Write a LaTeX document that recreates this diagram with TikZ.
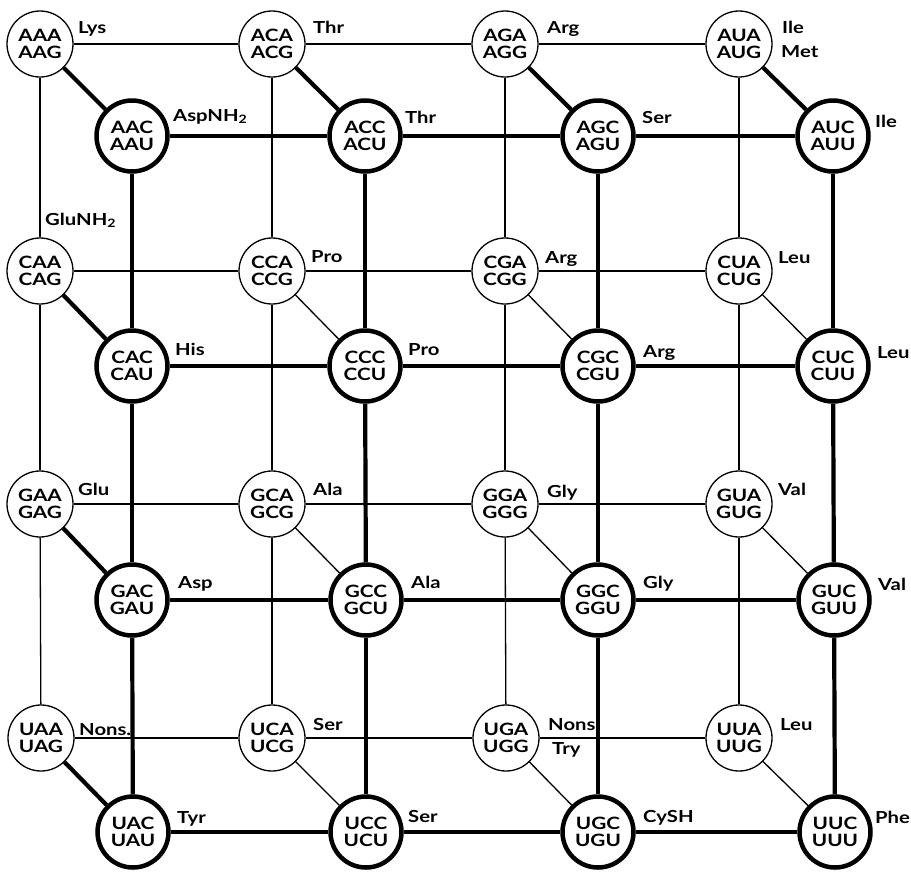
\documentclass[tikz,border=0pt]{standalone}
\usepackage{fontspec}
\setmainfont{Lato}[FakeStretch=1.22]
\begin{document}
\begin{tikzpicture}[x=1pt,y=-1pt,
  thinnode/.style={circle,draw,line width=1.3pt,minimum size=66pt,inner sep=0pt,fill=white,align=center,font=\fontsize{17}{17.5}\selectfont\bfseries},
  thicknode/.style={thinnode,line width=4.5pt,minimum size=71pt},
  thinline/.style={line width=1.3pt},
  thickline/.style={line width=4.2pt},
  lab/.style={anchor=base west,inner sep=0pt,font=\fontsize{16.6}{18}\selectfont\bfseries}]
\path[use as bounding box] (0,0) rectangle (911,871);
% thin nodes
\node[thinnode] (AAA) at (40,44) {AAA\\AAG};
\node[thinnode] (ACA) at (272,44) {ACA\\ACG};
\node[thinnode] (AGA) at (505,44) {AGA\\AGG};
\node[thinnode] (AUA) at (739,44) {AUA\\AUG};
\node[thinnode] (CAA) at (40,271) {CAA\\CAG};
\node[thinnode] (CCA) at (272,271) {CCA\\CCG};
\node[thinnode] (CGA) at (505,271) {CGA\\CGG};
\node[thinnode] (CUA) at (739,271) {CUA\\CUG};
\node[thinnode] (GAA) at (40,504) {GAA\\GAG};
\node[thinnode] (GCA) at (272,504) {GCA\\GCG};
\node[thinnode] (GGA) at (505,504) {GGA\\GGG};
\node[thinnode] (GUA) at (739,504) {GUA\\GUG};
\node[thinnode] (UAA) at (41,738) {UAA\\UAG};
\node[thinnode] (UCA) at (272,738) {UCA\\UCG};
\node[thinnode] (UGA) at (506,738) {UGA\\UGG};
\node[thinnode] (UUA) at (739,738) {UUA\\UUG};
% thick nodes
\node[thicknode] (AAC) at (132,136) {AAC\\AAU};
\node[thicknode] (ACC) at (365,136) {ACC\\ACU};
\node[thicknode] (AGC) at (598,136) {AGC\\AGU};
\node[thicknode] (AUC) at (833,136) {AUC\\AUU};
\node[thicknode] (CAC) at (132,366) {CAC\\CAU};
\node[thicknode] (CCC) at (365,366) {CCC\\CCU};
\node[thicknode] (CGC) at (598,366) {CGC\\CGU};
\node[thicknode] (CUC) at (833,366) {CUC\\CUU};
\node[thicknode] (GAC) at (132,600) {GAC\\GAU};
\node[thicknode] (GCC) at (366,600) {GCC\\GCU};
\node[thicknode] (GGC) at (598,600) {GGC\\GGU};
\node[thicknode] (GUC) at (834,600) {GUC\\GUU};
\node[thicknode] (UAC) at (133,832) {UAC\\UAU};
\node[thicknode] (UCC) at (366,832) {UCC\\UCU};
\node[thicknode] (UGC) at (598,832) {UGC\\UGU};
\node[thicknode] (UUC) at (835,832) {UUC\\UUU};
% thin grid
\foreach \r in {A,C,G,U}{
  \draw[thinline] (\r AA) -- (\r CA);
  \draw[thinline] (\r CA) -- (\r GA);
  \draw[thinline] (\r GA) -- (\r UA);
}
\foreach \c in {A,C,G,U}{
  \draw[thinline] (A\c A) -- (C\c A);
  \draw[thinline] (C\c A) -- (G\c A);
  \draw[thinline] (G\c A) -- (U\c A);
}
% thick grid
\foreach \r in {A,C,G,U}{
  \draw[thickline] (\r AC) -- (\r CC);
  \draw[thickline] (\r CC) -- (\r GC);
  \draw[thickline] (\r GC) -- (\r UC);
}
\foreach \c in {A,C,G,U}{
  \draw[thickline] (A\c C) -- (C\c C);
  \draw[thickline] (C\c C) -- (G\c C);
  \draw[thickline] (G\c C) -- (U\c C);
}
% diagonals
\foreach \n in {AA,AC,AG,AU,CA,GA,UA}{
  \draw[thickline] (\n A) -- (\n C);
}
\foreach \n in {CC,CG,CU,GC,GG,GU,UC,UG,UU}{
  \draw[thinline] (\n A) -- (\n C);
}
% labels thin
\node[lab] (lAAA) at ([shift={(38,-11)}]AAA.center) {Lys};
\node[lab] (lACA) at ([shift={(41,-11)}]ACA.center) {Thr};
\node[lab] (lAGA) at ([shift={(42,-11)}]AGA.center) {Arg};
\node[lab] (lAUA) at ([shift={(43,-11)}]AUA.center) {Ile};
\node[lab] (lAUG) at ([shift={(42,13)}]AUA.center) {Met};
\node[lab] (lCAA) at ([shift={(5,-46)}]CAA.center) {GluNH\textsubscript{2}};
\node[lab] (lCCA) at ([shift={(39,-9)}]CCA.center) {Pro};
\node[lab] (lCGA) at ([shift={(40,-8)}]CGA.center) {Arg};
\node[lab] (lCUA) at ([shift={(39,-8)}]CUA.center) {Leu};
\node[lab] (lGAA) at ([shift={(38,-9)}]GAA.center) {Glu};
\node[lab] (lGCA) at ([shift={(41,-9)}]GCA.center) {Ala};
\node[lab] (lGGA) at ([shift={(42,-7)}]GGA.center) {Gly};
\node[lab] (lGUA) at ([shift={(39,-9)}]GUA.center) {Val};
\node[lab] (lUAA) at ([shift={(38,-3)}]UAA.center) {Nons.};
\node[lab] (lUCA) at ([shift={(41,-8)}]UCA.center) {Ser};
\node[lab] (lUGA) at ([shift={(42,-8)}]UGA.center) {Nons};
\node[lab] (lUGG) at ([shift={(46,16)}]UGA.center) {Try};
\node[lab] (lUUA) at ([shift={(41,-8)}]UUA.center) {Leu};
% labels thick
\node[lab] (lAAC) at ([shift={(41,-15)}]AAC.center) {AspNH\textsubscript{2}};
\node[lab] (lACC) at ([shift={(40,-13)}]ACC.center) {Thr};
\node[lab] (lAGC) at ([shift={(44,-13)}]AGC.center) {Ser};
\node[lab] (lAUC) at ([shift={(42,-9)}]AUC.center) {Ile};
\node[lab] (lCAC) at ([shift={(43,-11)}]CAC.center) {His};
\node[lab] (lCCC) at ([shift={(43,-11)}]CCC.center) {Pro};
\node[lab] (lCGC) at ([shift={(45,-9)}]CGC.center) {Arg};
\node[lab] (lCUC) at ([shift={(44,-8)}]CUC.center) {Leu};
\node[lab] (lGAC) at ([shift={(46,-12)}]GAC.center) {Asp};
\node[lab] (lGCC) at ([shift={(45,-12)}]GCC.center) {Ala};
\node[lab] (lGGC) at ([shift={(45,-12)}]GGC.center) {Gly};
\node[lab] (lGUC) at ([shift={(44,-10)}]GUC.center) {Val};
\node[lab] (lUAC) at ([shift={(44,-9)}]UAC.center) {Tyr};
\node[lab] (lUCC) at ([shift={(42,-10)}]UCC.center) {Ser};
\node[lab] (lUGC) at ([shift={(45,-10)}]UGC.center) {CySH};
\node[lab] (lUUC) at ([shift={(40,-9)}]UUC.center) {Phe};
\end{tikzpicture}
\end{document}
